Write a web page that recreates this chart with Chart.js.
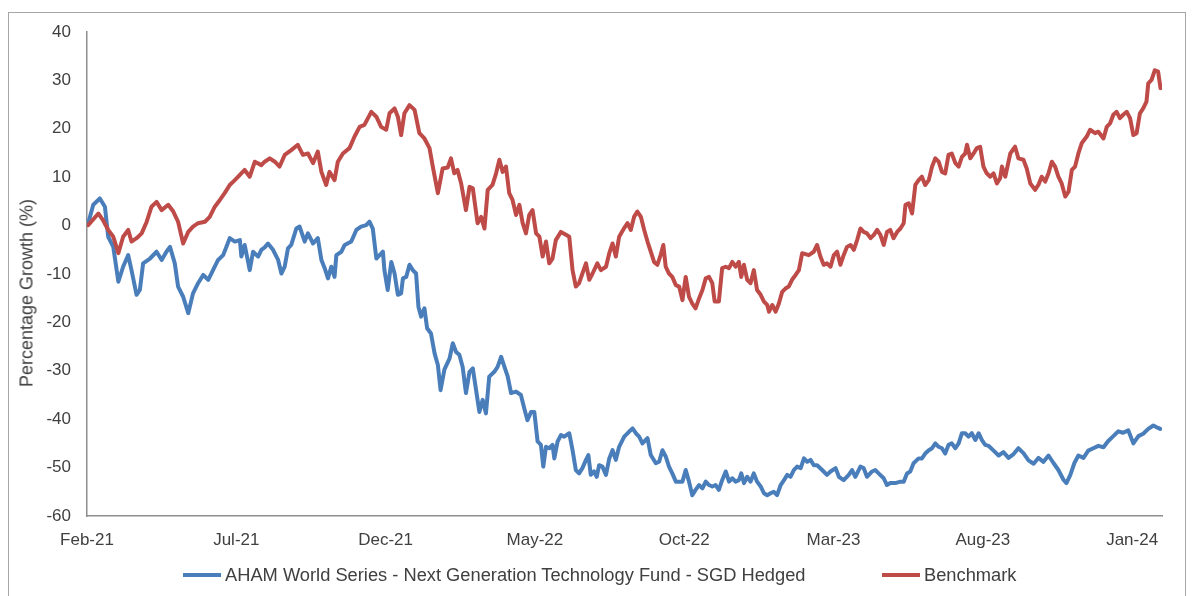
<!DOCTYPE html>
<html>
<head>
<meta charset="utf-8">
<script src="https://cdn.jsdelivr.net/npm/chart.js@4.4.1/dist/chart.umd.min.js"></script>
<style>
    html, body { margin: 0; padding: 0; background: #fff; }
    #wrap {
        position: relative; width: 1194px; height: 596px; overflow: hidden;
        font-family: "Liberation Sans", Arial, sans-serif; color: #404040;
    }
    #frame {
        position: absolute; left: 8px; top: 12px; width: 1178px; height: 640px;
        border: 1px solid #a6a6a6; box-sizing: border-box;
    }
    #growthChart { position: absolute; left: 0; top: 0; }
    #yTitle {
        position: absolute; left: 27px; top: 293px; white-space: nowrap; font-size: 18px;
        transform: translate(-50%, -50%) rotate(-90deg);
    }
    .legend-item {
        position: absolute; top: 563px; height: 24px; display: flex; align-items: center;
        font-size: 18.3px; white-space: nowrap;
    }
    .legend-item i { display: inline-block; width: 38px; height: 4px; margin-right: 4px; }
</style>
</head>
<body>
<div id="wrap">
    <div id="frame"></div>
    <canvas id="growthChart" width="1194" height="596"></canvas>
    <div id="yTitle">Percentage Growth (%)</div>
    <div id="legend"></div>
</div>
<script>
// x values are months since start of Feb 2021
const tickMonths = [0, 5, 10, 15, 20, 25, 30, 35];
const tickLabels = ['Feb-21', 'Jul-21', 'Dec-21', 'May-22', 'Oct-22', 'Mar-23', 'Aug-23', 'Jan-24'];

const fundName = 'AHAM World Series - Next Generation Technology Fund - SGD Hedged';
const benchName = 'Benchmark';

const fundMonths = [
    0.04, 0.21, 0.43, 0.60, 0.71, 0.88, 1.05, 1.21, 1.38, 1.49, 1.66, 1.77, 1.88, 2.11, 2.33, 2.50,
    2.66, 2.78, 2.94, 3.05, 3.22, 3.39, 3.55, 3.72, 3.89, 4.06, 4.22, 4.39, 4.56, 4.78, 4.95, 5.12,
    5.17, 5.28, 5.45, 5.56, 5.73, 5.84, 5.95, 6.06, 6.23, 6.40, 6.51, 6.62, 6.73, 6.84, 7.01, 7.12,
    7.29, 7.40, 7.57, 7.73, 7.85, 7.96, 8.07, 8.18, 8.29, 8.35, 8.52, 8.63, 8.85, 9.02, 9.18, 9.35,
    9.46, 9.57, 9.69, 9.80, 9.91, 9.96, 10.07, 10.19, 10.30, 10.41, 10.52, 10.58, 10.69, 10.80, 10.91, 11.02,
    11.10, 11.19, 11.30, 11.39, 11.52, 11.64, 11.75, 11.84, 11.97, 12.14, 12.25, 12.36, 12.47, 12.58, 12.69, 12.81,
    12.92, 13.03, 13.14, 13.25, 13.36, 13.47, 13.64, 13.75, 13.87, 13.98, 14.09, 14.20, 14.37, 14.53, 14.64, 14.75,
    14.87, 14.98, 15.09, 15.20, 15.28, 15.37, 15.48, 15.59, 15.65, 15.76, 15.87, 15.98, 16.15, 16.26, 16.37, 16.48,
    16.59, 16.71, 16.79, 16.87, 16.98, 17.07, 17.15, 17.26, 17.38, 17.49, 17.60, 17.71, 17.82, 17.99, 18.15, 18.27,
    18.38, 18.49, 18.60, 18.77, 18.88, 19.05, 19.16, 19.27, 19.38, 19.49, 19.60, 19.72, 19.83, 19.94, 20.05, 20.16,
    20.27, 20.38, 20.50, 20.61, 20.72, 20.83, 20.94, 21.05, 21.16, 21.27, 21.39, 21.50, 21.61, 21.72, 21.83, 21.91,
    22.00, 22.11, 22.22, 22.33, 22.44, 22.56, 22.67, 22.78, 22.89, 23.00, 23.11, 23.23, 23.34, 23.45, 23.56, 23.67,
    23.78, 23.90, 24.01, 24.12, 24.23, 24.34, 24.45, 24.62, 24.78, 24.90, 25.07, 25.18, 25.34, 25.51, 25.62, 25.73,
    25.90, 26.01, 26.12, 26.29, 26.40, 26.51, 26.68, 26.79, 26.90, 27.07, 27.24, 27.35, 27.46, 27.57, 27.68, 27.85,
    27.96, 28.07, 28.19, 28.30, 28.41, 28.52, 28.63, 28.74, 28.85, 28.96, 29.08, 29.19, 29.30, 29.41, 29.52, 29.63,
    29.75, 29.86, 29.97, 30.08, 30.19, 30.36, 30.53, 30.69, 30.86, 31.03, 31.19, 31.36, 31.53, 31.70, 31.86, 32.03,
    32.20, 32.36, 32.53, 32.70, 32.80, 32.93, 33.07, 33.20, 33.37, 33.53, 33.70, 33.87, 34.04, 34.20, 34.37, 34.54,
    34.70, 34.87, 35.04, 35.21, 35.37, 35.54, 35.71, 35.87, 35.94
];
const fundValues = [
    0.5, 4.3, 5.6, 3.9, -2.3, -4.4, -11.6, -8.5, -6.1, -9.2, -14.3, -13.3, -7.8, -6.8, -5.4, -7.1,
    -5.4, -4.4, -7.8, -12.6, -14.7, -18.1, -14.0, -11.9, -10.2, -11.2, -9.2, -7.1, -6.1, -2.6, -3.3, -3.0,
    -6.4, -4.0, -9.2, -5.4, -6.4, -5.0, -4.5, -3.7, -5.0, -7.1, -9.9, -8.5, -4.7, -4.0, -0.6, -0.2,
    -3.3, -1.6, -3.7, -2.6, -7.1, -8.8, -10.9, -8.5, -10.6, -6.1, -5.4, -4.0, -3.3, -0.9, -0.2, 0.1,
    0.8, -0.6, -6.8, -6.1, -5.4, -9.2, -13.3, -7.5, -9.9, -14.3, -14.0, -10.9, -10.6, -8.1, -9.2, -9.9,
    -16.8, -18.8, -17.1, -21.2, -22.3, -26.4, -28.8, -34.0, -29.7, -27.5, -24.3, -26.1, -26.7, -29.2, -34.6, -30.2,
    -29.5, -34.0, -38.5, -36.0, -38.8, -31.2, -30.2, -29.2, -27.1, -29.2, -31.2, -34.6, -34.3, -35.0, -37.7, -40.2,
    -38.5, -38.5, -44.6, -45.3, -49.8, -45.7, -46.0, -45.3, -48.1, -44.6, -43.3, -43.6, -42.9, -46.4, -50.5, -51.2,
    -50.1, -48.4, -47.4, -51.5, -50.8, -51.9, -49.5, -49.8, -51.5, -48.1, -46.4, -48.4, -45.7, -43.6, -42.6, -41.9,
    -42.9, -43.6, -45.0, -43.9, -47.4, -49.1, -48.8, -46.4, -47.7, -49.8, -51.2, -52.9, -52.9, -52.9, -50.5, -52.9,
    -55.7, -54.6, -53.6, -54.3, -52.9, -53.6, -53.9, -53.6, -54.6, -52.6, -50.8, -52.9, -52.2, -52.9, -52.6, -51.2,
    -53.2, -51.9, -52.9, -51.2, -52.9, -53.9, -55.3, -55.7, -55.3, -55.0, -55.7, -53.6, -52.6, -51.5, -51.9, -50.5,
    -49.8, -50.1, -48.1, -48.8, -48.4, -49.5, -49.5, -50.5, -51.5, -50.8, -50.1, -51.9, -52.6, -51.5, -50.5, -51.9,
    -49.8, -50.1, -51.9, -50.8, -50.5, -51.2, -52.2, -53.6, -53.2, -53.2, -52.9, -52.9, -51.2, -50.8, -49.1, -48.1,
    -48.1, -47.1, -46.4, -46.0, -45.0, -45.7, -46.0, -47.1, -45.3, -45.0, -46.0, -45.0, -42.9, -42.9, -43.6, -42.9,
    -44.3, -42.9, -44.3, -45.3, -45.5, -46.5, -47.5, -46.8, -48.0, -47.2, -46.0, -47.0, -48.5, -49.2, -48.0, -48.8,
    -47.5, -49.0, -50.5, -52.5, -53.2, -51.5, -49.0, -47.5, -48.0, -46.5, -46.0, -45.5, -45.8, -44.5, -43.5, -42.5,
    -42.8, -42.3, -45.0, -43.5, -43.0, -42.0, -41.3, -41.8, -42.0
];

const benchMonths = [
    0.04, 0.38, 0.53, 0.71, 0.88, 1.05, 1.21, 1.38, 1.49, 1.66, 1.83, 2.00, 2.16, 2.33, 2.50, 2.72,
    2.89, 3.05, 3.22, 3.39, 3.55, 3.72, 3.95, 4.11, 4.28, 4.45, 4.61, 4.78, 4.95, 5.12, 5.28, 5.45,
    5.62, 5.84, 5.95, 6.12, 6.29, 6.45, 6.62, 6.84, 7.06, 7.23, 7.40, 7.57, 7.73, 7.85, 8.01, 8.12,
    8.29, 8.40, 8.57, 8.79, 8.96, 9.13, 9.29, 9.52, 9.69, 9.85, 10.02, 10.13, 10.30, 10.41, 10.52, 10.63,
    10.80, 10.97, 11.13, 11.30, 11.47, 11.58, 11.75, 11.91, 12.08, 12.19, 12.30, 12.41, 12.53, 12.69, 12.81, 12.92,
    13.08, 13.20, 13.31, 13.42, 13.58, 13.70, 13.81, 13.92, 14.03, 14.14, 14.25, 14.37, 14.48, 14.59, 14.70, 14.81,
    14.92, 15.04, 15.15, 15.26, 15.37, 15.48, 15.59, 15.70, 15.87, 16.04, 16.15, 16.26, 16.37, 16.48, 16.59, 16.71,
    16.82, 16.93, 17.09, 17.21, 17.38, 17.49, 17.60, 17.71, 17.82, 17.99, 18.10, 18.21, 18.32, 18.43, 18.55, 18.66,
    18.77, 18.88, 18.99, 19.10, 19.21, 19.30, 19.38, 19.49, 19.60, 19.72, 19.83, 19.94, 20.05, 20.16, 20.27, 20.38,
    20.50, 20.61, 20.72, 20.83, 20.94, 21.02, 21.16, 21.27, 21.39, 21.50, 21.61, 21.72, 21.83, 21.91, 22.00, 22.11,
    22.22, 22.33, 22.44, 22.56, 22.67, 22.78, 22.84, 22.95, 23.06, 23.17, 23.28, 23.39, 23.50, 23.61, 23.73, 23.84,
    23.95, 24.06, 24.17, 24.34, 24.45, 24.56, 24.67, 24.78, 24.90, 25.01, 25.12, 25.23, 25.34, 25.45, 25.57, 25.68,
    25.79, 25.90, 26.01, 26.12, 26.24, 26.35, 26.46, 26.57, 26.68, 26.79, 26.90, 27.01, 27.13, 27.24, 27.35, 27.41,
    27.52, 27.63, 27.74, 27.85, 27.96, 28.07, 28.19, 28.30, 28.41, 28.52, 28.63, 28.74, 28.85, 28.96, 29.08, 29.19,
    29.30, 29.41, 29.47, 29.58, 29.69, 29.80, 29.91, 30.02, 30.13, 30.25, 30.36, 30.47, 30.58, 30.64, 30.75, 30.92,
    31.08, 31.19, 31.36, 31.47, 31.59, 31.75, 31.86, 31.97, 32.09, 32.20, 32.31, 32.42, 32.53, 32.64, 32.76, 32.87,
    32.98, 33.09, 33.20, 33.31, 33.48, 33.59, 33.76, 33.87, 34.04, 34.15, 34.26, 34.37, 34.48, 34.59, 34.70, 34.82,
    34.93, 35.04, 35.15, 35.26, 35.37, 35.48, 35.54, 35.65, 35.76, 35.87, 35.95
];
const benchValues = [
    0.1, 2.5, 1.2, -0.9, -2.3, -5.7, -2.3, -0.9, -3.3, -2.6, -1.6, 0.8, 3.9, 4.9, 3.2, 4.3,
    2.9, 0.8, -3.7, -1.3, -0.2, 0.5, 0.8, 1.8, 3.9, 5.3, 6.7, 8.4, 9.4, 10.5, 11.5, 10.1,
    13.2, 12.5, 13.2, 13.9, 13.2, 12.2, 14.6, 15.6, 16.7, 14.6, 14.9, 12.9, 15.3, 11.1, 8.4, 11.1,
    9.4, 13.2, 14.9, 16.0, 18.4, 20.4, 20.8, 23.5, 22.5, 20.4, 19.8, 23.2, 24.2, 22.5, 18.7, 23.2,
    24.9, 23.9, 19.1, 18.0, 16.0, 12.2, 6.7, 11.8, 12.0, 13.9, 10.8, 11.5, 8.7, 3.2, 8.0, 7.7,
    0.5, 1.8, -0.6, 7.4, 8.4, 10.8, 13.6, 11.1, 12.2, 6.7, 5.3, 2.2, 4.3, 0.5, -1.6, 2.2,
    3.2, -1.6, -2.3, -6.4, -3.3, -7.8, -6.8, -3.0, -1.3, -1.9, -2.3, -9.2, -12.6, -11.9, -9.9, -7.8,
    -11.2, -9.9, -7.8, -9.2, -8.5, -5.7, -3.7, -6.4, -2.3, -0.5, 0.5, -0.9, 1.8, 2.9, 1.8, -0.9,
    -3.3, -5.4, -7.5, -8.1, -6.1, -4.0, -8.5, -9.9, -10.6, -12.3, -12.6, -15.4, -10.6, -14.7, -16.1, -17.1,
    -15.0, -13.3, -10.9, -10.6, -11.9, -15.7, -15.7, -8.8, -8.5, -8.8, -7.5, -8.5, -7.5, -10.6, -8.1, -11.2,
    -11.9, -9.2, -13.3, -14.3, -15.7, -16.4, -17.8, -16.4, -17.8, -16.1, -13.7, -13.0, -12.6, -11.2, -10.2, -9.2,
    -5.7, -5.9, -6.1, -5.4, -4.0, -6.4, -8.1, -7.8, -8.5, -6.1, -5.4, -8.1, -6.1, -4.4, -4.0, -5.0,
    -3.0, -0.6, -1.3, -1.6, -2.6, -1.9, -0.9, -1.9, -4.0, -1.3, -0.9, -2.6, -1.3, -0.6, 0.5, 4.3,
    4.6, 2.5, 8.4, 9.4, 10.1, 8.4, 9.4, 12.2, 13.9, 13.2, 11.1, 10.8, 14.6, 14.9, 12.9, 12.2,
    14.2, 14.9, 16.7, 13.9, 14.9, 16.0, 16.3, 12.2, 10.8, 10.1, 10.8, 8.7, 9.8, 12.2, 10.1, 14.9,
    16.3, 13.9, 13.6, 11.8, 8.7, 7.4, 8.4, 10.1, 9.1, 10.8, 13.2, 12.2, 10.1, 8.7, 6.0, 7.0,
    11.5, 12.2, 14.9, 17.0, 18.4, 19.8, 19.1, 19.4, 18.0, 20.4, 21.1, 22.9, 23.5, 22.2, 22.9, 23.5,
    22.2, 18.7, 19.1, 23.2, 24.2, 25.6, 29.4, 30.1, 32.1, 31.8, 28.4
];

const fundColor = '#4a7ebb';
const benchColor = '#be4b48';
const axisColor = '#8e8e8e';
const textColor = '#404040';
const fontFamily = '"Liberation Sans", Arial, sans-serif';

function toPoints(xs, ys) {
    return xs.map((x, i) => ({ x: x, y: ys[i] }));
}

const datasets = [
    {
        label: fundName,
        data: toPoints(fundMonths, fundValues),
        borderColor: fundColor,
        borderWidth: 4,
        order: 1
    },
    {
        label: benchName,
        data: toPoints(benchMonths, benchValues),
        borderColor: benchColor,
        borderWidth: 4,
        order: 0
    }
];

new Chart(document.getElementById('growthChart'), {
    type: 'line',
    data: { datasets: datasets },
    options: {
        responsive: false,
        animation: false,
        layout: { padding: { left: 0, right: 32, top: 32, bottom: 0 } },
        elements: {
            point: { radius: 0 },
            line: { tension: 0, borderJoinStyle: 'round', borderCapStyle: 'round' }
        },
        plugins: {
            legend: { display: false },
            tooltip: { enabled: false }
        },
        scales: {
            x: {
                type: 'linear',
                min: 0,
                max: 36,
                afterBuildTicks: (scale) => {
                    scale.ticks = tickMonths.map(v => ({ value: v }));
                },
                afterFit: (scale) => { scale.height = 80; },
                grid: { display: false, drawTicks: false },
                border: { display: true, color: axisColor, width: 1.5 },
                ticks: {
                    autoSkip: false,
                    maxRotation: 0,
                    padding: 14,
                    color: textColor,
                    font: { family: fontFamily, size: 17 },
                    callback: (v) => tickLabels[tickMonths.indexOf(v)]
                }
            },
            y: {
                min: -60,
                max: 40,
                afterFit: (scale) => { scale.width = 87; },
                grid: { display: false, drawTicks: false },
                border: { display: true, color: axisColor, width: 1.5 },
                ticks: {
                    stepSize: 10,
                    padding: 16,
                    color: textColor,
                    font: { family: fontFamily, size: 17 }
                }
            }
        }
    }
});

// legend row under the axis
const legendBox = document.getElementById('legend');
const legendLeft = [183, 882];
datasets.forEach((ds, i) => {
    const item = document.createElement('div');
    item.className = 'legend-item';
    item.style.left = legendLeft[i] + 'px';
    item.innerHTML = `<i style="background:${ds.borderColor}"></i>${ds.label}`;
    legendBox.appendChild(item);
});
</script>
</body>
</html>
